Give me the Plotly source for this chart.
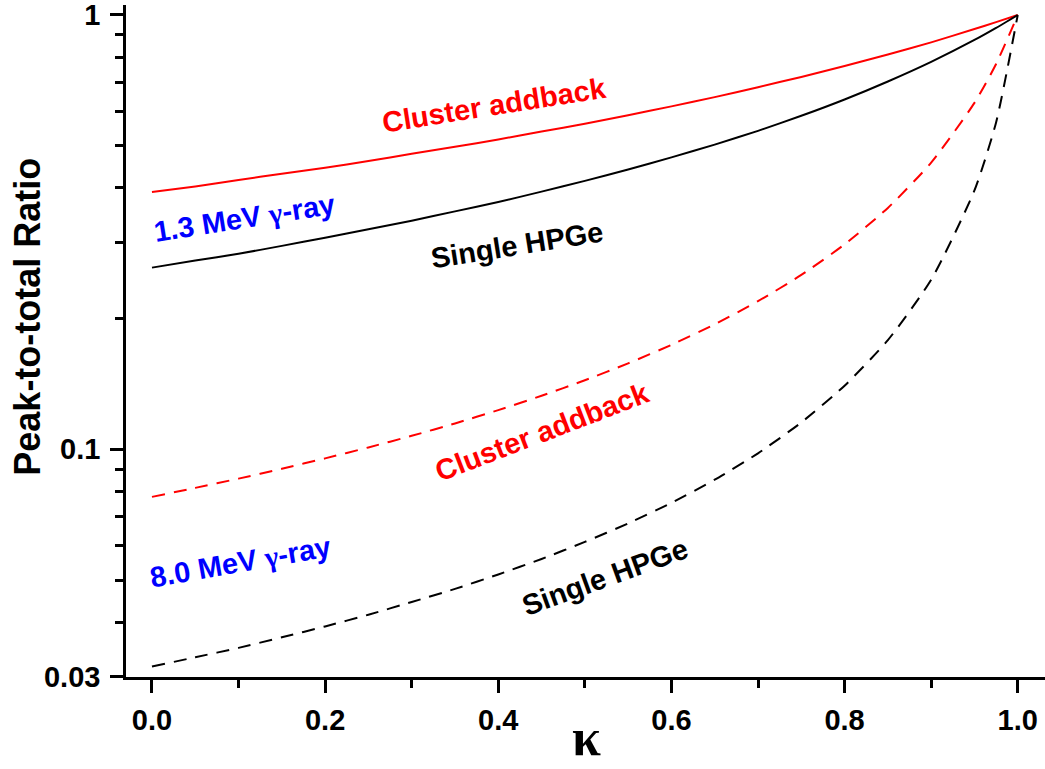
import plotly.graph_objects as go

# ---- data ----
kappa = [0.0, 0.05, 0.1, 0.15, 0.2, 0.25, 0.3, 0.35, 0.4, 0.45, 0.5,
         0.55, 0.6, 0.65, 0.7, 0.75, 0.8, 0.85, 0.9, 0.95, 0.975, 1.0]

cluster_13 = [0.391, 0.403, 0.417, 0.431, 0.445, 0.461, 0.479, 0.497, 0.517, 0.539, 0.562,
              0.588, 0.616, 0.647, 0.682, 0.720, 0.763, 0.811, 0.865, 0.928, 0.963, 1.0]
single_13 = [0.262, 0.272, 0.282, 0.294, 0.307, 0.321, 0.336, 0.353, 0.371, 0.392, 0.415,
             0.441, 0.470, 0.503, 0.541, 0.586, 0.639, 0.703, 0.780, 0.876, 0.934, 1.0]
cluster_80 = [0.0777, 0.0815, 0.0856, 0.0902, 0.0953, 0.1010, 0.1074, 0.1147, 0.1231, 0.1328, 0.1442,
              0.1577, 0.1740, 0.1940, 0.2193, 0.2520, 0.2964, 0.3596, 0.4572, 0.6275, 0.7712, 1.0]
single_80 = [0.0316, 0.0332, 0.0349, 0.0369, 0.0391, 0.0416, 0.0445, 0.0477, 0.0515, 0.0559, 0.0612,
             0.0675, 0.0753, 0.0851, 0.0979, 0.1153, 0.1401, 0.1784, 0.2457, 0.3945, 0.5658, 1.0]

x_tick_vals = [0.0, 0.2, 0.4, 0.6, 0.8, 1.0]
x_tick_text = ["0.0", "0.2", "0.4", "0.6", "0.8", "1.0"]
x_minor_vals = [0.1, 0.3, 0.5, 0.7, 0.9]
y_tick_vals = [0.03, 0.1, 1]
y_tick_text = ["0.03", "0.1", "1"]
y_minor_vals = [0.04, 0.05, 0.06, 0.07, 0.08, 0.09, 0.2, 0.3, 0.4, 0.5, 0.6, 0.7, 0.8, 0.9]

FONT = "Liberation Sans, Arial, sans-serif"
SERIF = "Liberation Serif, Times New Roman, serif"
RED = "#ff0000"
BLUE = "#0000ff"
GAMMA = '<span style="font-family:Liberation Serif">γ</span>'

fig = go.Figure()
series = [
    (cluster_13, RED, "solid"),
    (single_13, "black", "solid"),
    (cluster_80, RED, "13px,9px"),
    (single_80, "black", "13px,9px"),
]
for vals, col, dash in series:
    fig.add_trace(go.Scatter(x=kappa, y=vals, mode="lines",
                             line=dict(color=col, width=2, dash=dash, shape="spline", smoothing=0.6),
                             showlegend=False, hoverinfo="skip"))

axis_common = dict(showline=True, linecolor="black", linewidth=2.5, showgrid=False, zeroline=False,
                   ticks="outside", ticklen=13, tickwidth=2.5, tickcolor="black",
                   ticklabeloverflow="allow",
                   tickfont=dict(family=FONT, size=29, color="black", weight="bold"))

fig.update_xaxes(range=[-0.0300, 1.0315], tickmode="array", tickvals=x_tick_vals, ticktext=x_tick_text,
                 minor=dict(tickvals=x_minor_vals, ticks="outside", ticklen=8, tickwidth=2.5, tickcolor="black"),
                 ticklabelstandoff=2, **axis_common)
fig.update_yaxes(type="log", range=[-1.5243, 0.0230], tickmode="array", tickvals=y_tick_vals, ticktext=y_tick_text,
                 minor=dict(tickvals=y_minor_vals, ticks="outside", ticklen=8, tickwidth=2.5, tickcolor="black"),
                 ticklabelstandoff=4, **axis_common)

def note(text, x, ylog, angle, color, size=29):
    fig.add_annotation(x=x, y=ylog, xref="x", yref="y", text=text, showarrow=False,
                       textangle=angle, xanchor="center", yanchor="middle",
                       font=dict(family=FONT, size=size, color=color, weight="bold"))

note("Cluster addback", 0.396, -0.2072, -9, RED)
note("Single HPGe", 0.4216, -0.5296, -9, "black")
note("1.3 MeV " + GAMMA + "-ray", 0.1063, -0.4674, -9, BLUE)
note("Cluster addback", 0.4505, -0.9602, -21, RED)
note("8.0 MeV " + GAMMA + "-ray", 0.1017, -1.2595, -10, BLUE)
note("Single HPGe", 0.5233, -1.2940, -20, "black")

# axis titles
fig.add_annotation(x=(28 - 126) / 919, y=(677 - 316.7) / 672, xref="paper", yref="paper",
                   text="Peak-to-total Ratio", showarrow=False, textangle=-90,
                   xanchor="center", yanchor="middle",
                   font=dict(family=FONT, size=36, color="black", weight="bold"))
fig.add_annotation(x=(586 - 126) / 919, y=(677 - 768) / 672, xref="paper", yref="paper",
                   text="κ", showarrow=False, xanchor="center", yanchor="bottom",
                   font=dict(family=SERIF, size=52, color="black", weight="bold"))

fig.update_layout(width=1045, height=769, margin=dict(l=126, r=0, t=5, b=92),
                  plot_bgcolor="white", paper_bgcolor="white", showlegend=False)

fig.write_html("out.html")
